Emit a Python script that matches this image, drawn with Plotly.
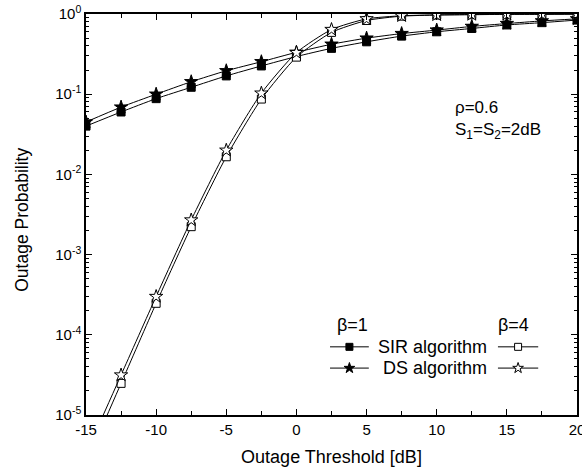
import plotly.graph_objects as go

# ---- data ----
threshold_db = [-15, -12.5, -10, -7.5, -5, -2.5, 0, 2.5, 5, 7.5, 10, 12.5, 15, 17.5, 20]

sir_beta1 = [0.040, 0.060, 0.088, 0.122, 0.169, 0.225, 0.295, 0.373, 0.45, 0.53, 0.60, 0.66, 0.73, 0.78, 0.84]
ds_beta1 = [0.045, 0.069, 0.100, 0.143, 0.196, 0.254, 0.333, 0.42, 0.50, 0.57, 0.63, 0.70, 0.76, 0.82, 0.87]
sir_beta4 = [2.5e-6, 2.48e-5, 2.47e-4, 2.23e-3, 0.0166, 0.087, 0.29, 0.59, 0.83, 0.94, 0.97, 0.98, 0.99, 0.99, 0.995]
ds_beta4 = [3.3e-6, 3.15e-5, 3.0e-4, 2.7e-3, 0.020, 0.103, 0.33, 0.64, 0.87, 0.95, 0.975, 0.985, 0.99, 0.995, 0.998]

x_ticks = [-15, -10, -5, 0, 5, 10, 15, 20]
x_tick_text = ["-15", "-10", "-5", "0", "5", "10", "15", "20"]
y_ticks = [1e-5, 1e-4, 1e-3, 1e-2, 1e-1, 1]
y_tick_text = ["10<sup>-5</sup>", "10<sup>-4</sup>", "10<sup>-3</sup>", "10<sup>-2</sup>", "10<sup>-1</sup>", "10<sup>0</sup>"]

FONT = "Arial, Liberation Sans, Helvetica, sans-serif"

fig = go.Figure()

series = [
    (sir_beta1, "square", "black", 8),
    (ds_beta1, "star", "black", 10),
    (sir_beta4, "square", "white", 8),
    (ds_beta4, "star", "white", 10),
]
for vals, sym, fill, size in series:
    fig.add_trace(go.Scatter(
        x=threshold_db, y=vals, mode="lines+markers",
        line=dict(color="black", width=1, shape="spline", smoothing=0.6),
        marker=dict(symbol=sym, size=size, color=fill, line=dict(color="black", width=1)),
        showlegend=False, cliponaxis=True,
    ))

# ---- custom two-column legend (overlay axis spanning the plot area, 0..1) ----
leg_rows = [(0.170, "square", "SIR algorithm", 7), (0.117, "star", "DS algorithm", 8)]
leg_cols = [(0.497, 0.576, "black"), (0.839, 0.921, "white")]
for yrow, sym, label, size in leg_rows:
    for x0, x1, fill in leg_cols:
        fig.add_trace(go.Scatter(
            x=[x0, x1], y=[yrow, yrow], mode="lines",
            line=dict(color="black", width=1), xaxis="x2", yaxis="y2",
            showlegend=False, hoverinfo="skip"))
        fig.add_trace(go.Scatter(
            x=[(x0 + x1) / 2], y=[yrow], mode="markers",
            marker=dict(symbol=sym, size=size, color=fill, line=dict(color="black", width=1)),
            xaxis="x2", yaxis="y2", showlegend=False, hoverinfo="skip"))
    fig.add_annotation(x=0.82, y=yrow, xref="x2", yref="y2", text=label, showarrow=False,
                       font=dict(family=FONT, size=18, color="black"), xanchor="right", yanchor="middle")

fig.add_annotation(x=0.542, y=0.224, xref="x2", yref="y2", text="β=1", showarrow=False,
                   font=dict(family=FONT, size=18, color="black"))
fig.add_annotation(x=0.871, y=0.224, xref="x2", yref="y2", text="β=4", showarrow=False,
                   font=dict(family=FONT, size=18, color="black"))

fig.add_annotation(x=0.747, y=0.768, xref="paper", yref="paper", text="ρ=0.6", showarrow=False,
                   xanchor="left", yanchor="middle", font=dict(family=FONT, size=17, color="black"))
fig.add_annotation(x=0.747, y=0.709, xref="paper", yref="paper",
                   text="S<sub>1</sub>=S<sub>2</sub>=2dB", showarrow=False,
                   xanchor="left", yanchor="middle", font=dict(family=FONT, size=17, color="black"))

# y-axis title as a rotated annotation for exact placement
fig.add_annotation(x=-0.131, y=0.486, xref="paper", yref="paper", text="Outage Probability",
                   textangle=-90, showarrow=False, xanchor="center", yanchor="middle",
                   font=dict(family=FONT, size=17.5, color="black"))

axis_common = dict(showline=True, linecolor="black", linewidth=1.5, mirror="ticks",
                   ticks="inside", tickcolor="black", showgrid=False, zeroline=False,
                   ticklabeloverflow="allow", automargin=False,
                   tickfont=dict(family=FONT, size=15, color="black"))

fig.update_layout(
    width=582, height=473,
    margin=dict(l=86, r=5, t=14, b=58),
    paper_bgcolor="white", plot_bgcolor="white",
    font=dict(family=FONT, color="black"),
    xaxis=dict(range=[-15, 20], tickvals=x_ticks, ticktext=x_tick_text, ticklen=6,
               minor=dict(ticks="inside", dtick=2.5, ticklen=4, tickcolor="black", showgrid=False),
               title=dict(text="Outage Threshold [dB]", font=dict(family=FONT, size=18), standoff=14),
               **axis_common),
    yaxis=dict(type="log", range=[-5, 0], tickvals=y_ticks, ticktext=y_tick_text, ticklen=6,
               minor=dict(ticks="inside", dtick="D1", ticklen=3, tickcolor="black", showgrid=False),
               **axis_common),
    xaxis2=dict(domain=[0, 1], range=[0, 1], overlaying="x", visible=False, anchor="y2"),
    yaxis2=dict(domain=[0, 1], range=[0, 1], overlaying="y", visible=False, anchor="x2"),
)

fig.write_html("out.html", config={"displayModeBar": False},
               post_script="document.body.style.margin='0px';document.body.style.overflow='hidden';")
